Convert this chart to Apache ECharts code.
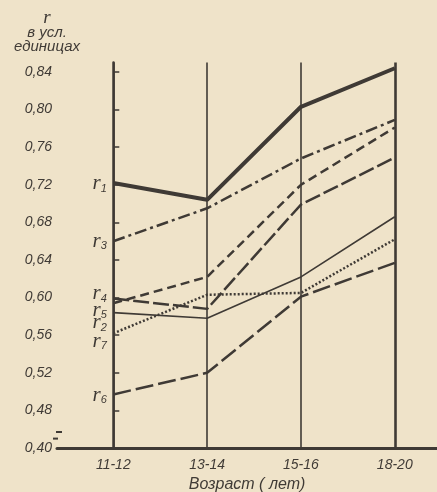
<!DOCTYPE html>
<html><head><meta charset="utf-8">
<script src="https://cdn.jsdelivr.net/npm/echarts@6/dist/echarts.min.js"></script>
<style>html,body{margin:0;padding:0;background:#efe3c9;}#c{width:437px;height:492px;}</style>
</head><body><div id="c"></div>
<script>
const categories = ['11-12', '13-14', '15-16', '18-20'];
const yTicks = ['0,40', '0,48', '0,52', '0,56', '0,60', '0,64', '0,68', '0,72', '0,76', '0,80', '0,84'];
const r1 = [0.722, 0.704, 0.803, 0.844];
const r3 = [0.660, 0.695, 0.748, 0.789];
const r4 = [0.599, 0.588, 0.699, 0.749];
const r5 = [0.594, 0.622, 0.720, 0.781];
const r2 = [0.584, 0.578, 0.622, 0.686];
const r7 = [0.562, 0.603, 0.605, 0.662];
const r6 = [0.497, 0.520, 0.601, 0.637];

const INK = '#3f3a35';
const TXT = '#403b36';
const BG = '#efe3c9';
const FONT = 'Liberation Sans';

function mk(name, sub, vals, style, labOff) {
  return {
    name: name, type: 'line', symbol: 'circle', symbolSize: 1, showSymbol: true, silent: true,
    itemStyle: { color: 'rgba(0,0,0,0)', borderWidth: 0 },
    lineStyle: Object.assign({ color: INK, cap: 'butt' }, style),
    label: { show: false },
    data: vals.map((v, i) => i === 0 ? {
      value: [i, v],
      label: {
        show: true, position: 'left', distance: 6, offset: [0, labOff],
        formatter: '{a|r}{b|' + sub + '}',
        rich: {
          a: { fontFamily: 'Liberation Serif', fontStyle: 'italic', fontSize: 21, color: INK },
          b: { fontFamily: 'Liberation Sans', fontStyle: 'italic', fontSize: 11, color: INK, padding: [10, 0, 0, 0] }
        }
      }
    } : { value: [i, v] }),
    z: 3
  };
}

const series = [
  mk('r1', '1', r1, { width: 4 }, 1),
  mk('r3', '3', r3, { width: 2.5, type: [12, 4, 3, 4] }, 0),
  mk('r4', '4', r4, { width: 2.5, type: [16, 4] }, -5),
  mk('r5', '5', r5, { width: 2.5, type: [9, 5] }, 7),
  mk('r2', '2', r2, { width: 1.6 }, 10),
  mk('r7', '7', r7, { width: 2.5, type: [2, 2] }, 8),
  mk('r6', '6', r6, { width: 2.5, type: [18, 5] }, 1)
];
series[0].markLine = {
  silent: true, symbol: 'none', label: { show: false },
  lineStyle: { color: INK, width: 1.6, type: 'solid' },
  data: categories.map((c, i) => i === 3 ? { xAxis: i, lineStyle: { width: 2.6, color: INK, type: 'solid' } } : { xAxis: i })
};

const chart = echarts.init(document.getElementById('c'), null, { renderer: 'canvas' });
chart.setOption({
  backgroundColor: BG,
  animation: false,
  title: {
    text: '{r|r}\nв усл.\nединицах',
    left: 42, top: 5, textAlign: 'center',
    textStyle: {
      fontFamily: FONT, fontStyle: 'italic', fontWeight: 'normal', fontSize: 15, color: TXT, lineHeight: 14,
      rich: { r: { fontFamily: 'Liberation Serif', fontStyle: 'italic', fontSize: 19, color: TXT, lineHeight: 16 } }
    }
  },
  grid: { left: 57, right: 0, top: 62.6, bottom: 44, containLabel: false, outerBoundsMode: 'none' },
  xAxis: {
    type: 'value', min: -0.6, max: 3.45,
    name: 'Возраст ( лет)', nameLocation: 'middle', nameGap: 29,
    nameTextStyle: { fontFamily: FONT, fontStyle: 'italic', fontSize: 16, color: TXT },
    axisLine: { lineStyle: { color: INK, width: 3 } },
    axisTick: { show: false },
    splitLine: { show: false },
    axisLabel: {
      customValues: [0, 1, 2, 3], margin: 10,
      formatter: v => categories[Math.round(v)],
      fontFamily: FONT, fontStyle: 'italic', fontSize: 14, color: TXT
    }
  },
  yAxis: {
    type: 'value', min: 0.44, max: 0.85, interval: 0.04,
    axisLine: { show: true, lineStyle: { color: INK, width: 2.5 } },
    axisTick: { show: true, inside: true, length: 6, lineStyle: { color: INK, width: 1.5 } },
    splitLine: { show: false },
    axisLabel: {
      margin: 5, showMaxLabel: false,
      formatter: v => { const k = Math.round((v - 0.44) / 0.04); return yTicks[k]; },
      fontFamily: FONT, fontStyle: 'italic', fontSize: 14, color: TXT
    }
  },
  series: series
});

// axis-break mark near the bottom of the y axis (between 0,40 and 0,48)
const p = chart.convertToPixel({ gridIndex: 0 }, [-0.6, 0.457]);
const q = chart.convertToPixel({ gridIndex: 0 }, [-0.6, 0.450]);
chart.setOption({
  graphic: [
    { type: 'rect', shape: { x: p[0] - 3, y: p[1] + 1, width: 6, height: q[1] - p[1] - 2 }, style: { fill: BG }, z: 100, zlevel: 1 },
    { type: 'line', shape: { x1: p[0] - 1, y1: p[1], x2: p[0] + 5, y2: p[1] }, style: { stroke: INK, lineWidth: 2 }, z: 101, zlevel: 1 },
    { type: 'line', shape: { x1: p[0] - 4, y1: q[1], x2: p[0] + 1, y2: q[1] }, style: { stroke: INK, lineWidth: 2 }, z: 101, zlevel: 1 }
  ]
});
</script>
</body></html>
